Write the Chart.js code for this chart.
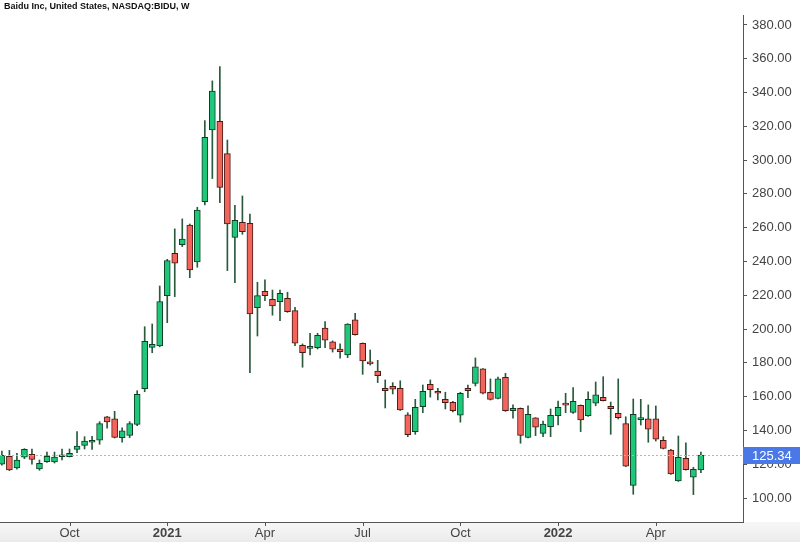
<!DOCTYPE html>
<html>
<head>
<meta charset="utf-8">
<title>BIDU weekly</title>
<script src="https://cdn.jsdelivr.net/npm/chart.js@4.4.1/dist/chart.umd.min.js"></script>
<style>
  html, body { margin: 0; padding: 0; background: #fff; }
  #wrap { position: relative; width: 800px; height: 542px; }
</style>
</head>
<body>
<div id="wrap"><canvas id="chart"></canvas></div>
<script>
// weekly candles, first bar = week of 3 Aug 2020, last = week of 16 May 2022
var opens = [120.1, 124.7, 117.8, 124.1, 125.9, 117.2, 121.5, 121.3, 124.4, 124.5,
  128.8, 131.2, 133.0, 134.2, 148.1, 146.8, 135.7, 137.1, 143.6, 164.7,
  189.2, 190.0, 219.8, 244.9, 250.0, 261.6, 239.7, 275.4, 317.9, 323.0,
  303.8, 254.3, 263.2, 262.6, 212.7, 222.4, 217.6, 216.2, 218.2, 210.9,
  190.4, 188.6, 189.0, 200.6, 192.4, 188.1, 184.7, 205.4, 191.6, 180.4,
  175.2, 164.9, 166.1, 164.9, 149.3, 139.3, 154.1, 167.3, 163.2, 158.4,
  156.7, 149.1, 164.9, 167.9, 176.4, 162.6, 159.0, 171.5, 151.7, 153.1,
  135.9, 147.5, 138.3, 142.2, 148.7, 155.3, 150.7, 154.9, 148.7, 156.1,
  159.6, 154.3, 150.1, 144.0, 107.5, 146.4, 146.8, 146.8, 134.2, 128.4,
  110.1, 123.5, 112.3, 116.6];
var highs = [127.8, 128.2, 126.5, 129.2, 129.0, 122.5, 127.2, 127.2, 129.0, 129.0,
  139.3, 136.3, 136.5, 145.2, 148.3, 151.3, 141.6, 145.2, 163.5, 201.4,
  203.0, 225.5, 241.3, 259.3, 265.2, 262.2, 272.1, 323.4, 346.9, 355.4,
  311.9, 273.3, 278.8, 268.0, 227.7, 229.1, 223.1, 223.1, 221.8, 212.9,
  191.2, 197.5, 197.5, 204.4, 193.0, 191.2, 203.2, 209.3, 191.8, 187.6,
  181.5, 169.9, 168.3, 169.4, 150.5, 158.4, 166.9, 169.9, 164.9, 162.6,
  157.3, 162.6, 166.9, 182.9, 176.6, 170.5, 171.6, 173.8, 155.1, 153.3,
  154.5, 147.6, 145.6, 152.7, 157.4, 162.0, 165.3, 155.1, 162.8, 168.7,
  171.8, 156.8, 170.5, 148.1, 158.6, 158.4, 155.1, 154.5, 136.3, 128.8,
  136.7, 132.7, 118.2, 127.2];
var lows = [119.4, 116.2, 117.0, 123.3, 120.1, 116.4, 121.1, 120.7, 122.5, 124.3,
  126.8, 129.0, 128.8, 131.8, 141.3, 135.5, 133.0, 135.7, 142.8, 162.9,
  186.0, 189.5, 203.8, 219.2, 248.8, 230.4, 236.6, 273.5, 289.1, 274.8,
  234.6, 227.5, 256.1, 174.2, 195.9, 216.8, 208.2, 205.0, 209.9, 190.2,
  177.4, 184.7, 188.2, 189.0, 186.4, 182.7, 183.1, 196.4, 173.2, 178.7,
  168.3, 153.3, 161.6, 151.8, 136.3, 137.7, 150.5, 159.7, 158.0, 152.7,
  150.9, 144.9, 159.4, 166.3, 161.6, 158.0, 158.6, 151.3, 147.2, 132.4,
  135.5, 136.9, 136.3, 136.3, 143.2, 150.5, 150.1, 139.3, 148.3, 154.6,
  157.4, 137.7, 146.8, 118.5, 102.2, 143.2, 133.0, 133.7, 129.0, 113.9,
  109.8, 116.5, 102.0, 115.0];
var closes = [125.3, 116.6, 122.5, 128.8, 122.9, 120.5, 124.7, 124.3, 124.9, 126.5,
  130.8, 133.7, 133.4, 144.0, 145.0, 135.9, 139.7, 144.0, 161.4, 192.8,
  191.0, 216.2, 240.5, 239.0, 253.2, 235.0, 270.5, 313.5, 340.8, 283.9,
  262.2, 264.4, 257.7, 208.9, 219.8, 219.8, 213.7, 221.2, 210.3, 191.6,
  186.0, 189.8, 196.3, 193.4, 188.1, 186.6, 203.0, 196.7, 181.1, 179.4,
  172.4, 163.5, 164.4, 152.1, 137.5, 153.7, 163.2, 164.1, 162.0, 156.4,
  151.7, 162.0, 163.5, 177.7, 162.0, 158.4, 170.5, 151.7, 153.1, 137.1,
  149.6, 142.0, 143.8, 149.0, 153.7, 155.0, 157.3, 146.2, 158.4, 161.0,
  157.6, 152.9, 147.5, 118.9, 149.6, 146.8, 140.7, 134.8, 129.4, 114.2,
  124.1, 116.8, 117.0, 125.34];

// first week of each quarter (bar index) and its label
var xTickWeeks = [9, 22, 35, 48, 61, 74, 87];
var xTickLabels = ["Oct", "2021", "Apr", "Jul", "Oct", "2022", "Apr"];
var yTickValues = [100, 120, 140, 160, 180, 200, 220, 240, 260, 280, 300, 320, 340, 360, 380];

var lastPrice = 125.34;
var title = "Baidu Inc, United States, NASDAQ:BIDU, W";

var UP = "#1fc77b", DOWN = "#f4645a";
var UP_EDGE = "#0e3d24", DOWN_EDGE = "#4a1a15", WICK = "#2a5a3c";

var wicks = [], bodies = [], bodyFill = [], bodyEdge = [];
for (var i = 0; i < opens.length; i++) {
    var up = closes[i] >= opens[i];
    wicks.push({ x: i, y: [lows[i], highs[i]] });
    bodies.push({ x: i, y: [opens[i], closes[i]] });
    bodyFill.push(up ? UP : DOWN);
    bodyEdge.push(up ? UP_EDGE : DOWN_EDGE);
}

// background band under the time axis + title
var backdrop = {
    id: "backdrop",
    beforeDraw: function(chart) {
        var c = chart.ctx, a = chart.chartArea;
        c.save();
        var g = c.createLinearGradient(0, a.bottom, 0, chart.height);
        g.addColorStop(0, "#f7f7f7");
        g.addColorStop(1, "#ebebeb");
        c.fillStyle = g;
        c.fillRect(0, a.bottom, chart.width, chart.height - a.bottom);
        c.fillStyle = "#111";
        c.font = "bold 9px 'Liberation Sans', Arial, sans-serif";
        c.textBaseline = "middle";
        c.fillText(title, 4, 7);
        c.restore();
    }
};

// time-axis tick marks, last price dotted line and its label on the price axis
var lastMark = {
    id: "lastMark",
    afterDraw: function(chart) {
        var c = chart.ctx, a = chart.chartArea, xs = chart.scales.x;
        c.save();
        c.strokeStyle = "#555";
        c.lineWidth = 1;
        c.beginPath();
        xTickWeeks.forEach(function(w) {
            var px = Math.round(xs.getPixelForValue(w)) + 0.5;
            c.moveTo(px, a.bottom);
            c.lineTo(px, a.bottom + 4);
        });
        c.stroke();

        var y = Math.round(chart.scales.y.getPixelForValue(lastPrice)) + 0.5;
        c.strokeStyle = "#9fb4f0";
        c.setLineDash([2, 2]);
        c.beginPath();
        c.moveTo(a.left, y);
        c.lineTo(a.right, y);
        c.stroke();
        c.setLineDash([]);
        c.fillStyle = "#4a78e6";
        c.fillRect(a.right, y - 8.5, chart.width - a.right, 17);
        c.fillStyle = "#fff";
        c.font = "13px 'Liberation Sans', Arial, sans-serif";
        c.textBaseline = "middle";
        c.fillText(lastPrice.toFixed(2), a.right + 9, y + 0.5);
        c.restore();
    }
};

var ctx = document.getElementById("chart").getContext("2d");
new Chart(ctx, {
    type: "bar",
    data: {
        datasets: [
            { data: bodies, backgroundColor: bodyFill, borderColor: bodyEdge, borderWidth: 1,
              borderSkipped: false, barThickness: 6, minBarLength: 2, order: 1 },
            { data: wicks, backgroundColor: WICK, borderWidth: 0, barThickness: 1, order: 2 }
        ]
    },
    options: {
        responsive: true,
        maintainAspectRatio: false,
        animation: false,
        layout: { padding: { top: 15, left: 0, right: 0, bottom: 0 } },
        datasets: { bar: { grouped: false } },
        plugins: { legend: { display: false }, tooltip: { enabled: false } },
        scales: {
            x: {
                type: "linear",
                min: -0.25,
                max: 98.6,
                offset: false,
                afterBuildTicks: function(scale) {
                    scale.ticks = xTickWeeks.map(function(v) { return { value: v }; });
                },
                afterFit: function(scale) { scale.height = 20; },
                grid: { offset: false, drawOnChartArea: false, drawTicks: false, tickLength: 4, color: "#555" },
                border: { display: true, color: "#555", width: 1 },
                ticks: {
                    autoSkip: false,
                    maxRotation: 0,
                    padding: 4,
                    color: "#444",
                    font: function(c) {
                        var lbl = xTickLabels[c.index] || "";
                        return { family: "'Liberation Sans', Arial, sans-serif", size: 13,
                                 weight: /^\d{4}$/.test(lbl) ? "bold" : "normal" };
                    },
                    callback: function(value, index) { return xTickLabels[index]; }
                }
            },
            y: {
                position: "right",
                min: 85.8,
                max: 385.9,
                afterBuildTicks: function(scale) {
                    scale.ticks = yTickValues.map(function(v) { return { value: v }; });
                },
                afterFit: function(scale) { scale.width = 57; },
                grid: { drawOnChartArea: false, drawTicks: true, tickLength: 4, color: "#555" },
                border: { display: true, color: "#555", width: 1 },
                ticks: {
                    padding: 5,
                    color: "#444",
                    font: { family: "'Liberation Sans', Arial, sans-serif", size: 13 },
                    callback: function(v) { return Number(v).toFixed(2); }
                }
            }
        }
    },
    plugins: [backdrop, lastMark]
});
</script>
</body>
</html>
